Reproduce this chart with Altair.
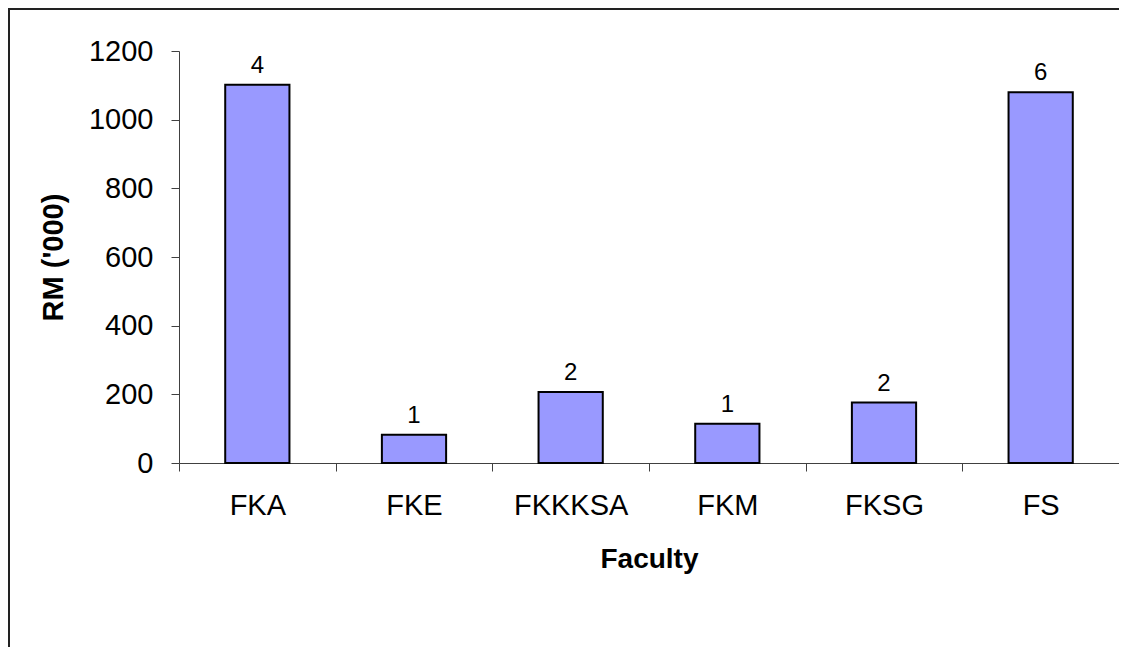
import altair as alt
import pandas as pd

faculties = ["FKA", "FKE", "FKKKSA", "FKM", "FKSG", "FS"]
amounts = [1102, 82, 207, 114, 176, 1080]
counts = [4, 1, 2, 1, 2, 6]

df = pd.DataFrame({"Faculty": faculties, "Amount": amounts, "Count": counts})

FONT = "Liberation Sans"

x_enc = alt.X(
    "Faculty:N",
    sort=faculties,
    scale=alt.Scale(paddingInner=0, paddingOuter=0),
    axis=alt.Axis(
        title="Faculty",
        labelAngle=0,
        tickBand="extent",
        tickSize=8,
        labelPadding=20,
        labelFontSize=29,
        labelFont=FONT,
        labelColor="black",
        titleFont=FONT,
        titleFontSize=28,
        titleFontWeight="bold",
        titleColor="black",
        titleY=104,
        titleBaseline="alphabetic",
        domainColor="#404040",
        tickColor="#404040",
        grid=False,
    ),
)

y_enc = alt.Y(
    "Amount:Q",
    scale=alt.Scale(domain=[0, 1200], nice=False),
    axis=alt.Axis(
        title="RM ('000)",
        values=[0, 200, 400, 600, 800, 1000, 1200],
        format="d",
        tickSize=8,
        labelPadding=18,
        labelFontSize=29,
        labelFont=FONT,
        labelColor="black",
        titleFont=FONT,
        titleFontSize=29,
        titleFontWeight="bold",
        titleColor="black",
        titleAngle=-90,
        titleX=-126,
        titleY=206,
        titleAlign="center",
        titleBaseline="middle",
        domainColor="#404040",
        tickColor="#404040",
        grid=False,
    ),
)

bars = alt.Chart(df).mark_bar(
    color="#9999FF",
    stroke="black",
    strokeWidth=2,
    width=alt.RelativeBandSize(0.41),
).encode(x=x_enc, y=y_enc)

labels = alt.Chart(df).mark_text(
    font=FONT,
    fontSize=24,
    color="black",
    baseline="alphabetic",
    dy=-12,
).encode(
    x=alt.X("Faculty:N", sort=faculties),
    y=alt.Y("Amount:Q"),
    text=alt.Text("Count:Q"),
)

one = pd.DataFrame({"a": [0]})
frame_left = alt.Chart(one).mark_rule(color="#222222", strokeWidth=2).encode(
    x=alt.value(-170),
    y=alt.value(-42),
    y2=alt.value(700),
)
frame_top = alt.Chart(one).mark_rule(color="#222222", strokeWidth=2).encode(
    x=alt.value(-171),
    x2=alt.value(1000),
    y=alt.value(-42),
)

chart = alt.layer(frame_left, frame_top, bars, labels).properties(
    width=940,
    height=412,
    autosize=alt.AutoSizeParams(type="none"),
    padding={"left": 171, "top": 43, "right": 0, "bottom": 184},
).configure(background="white").configure_view(stroke=None)

chart.save("out.html", embed_options={"renderer": "svg", "actions": False})
